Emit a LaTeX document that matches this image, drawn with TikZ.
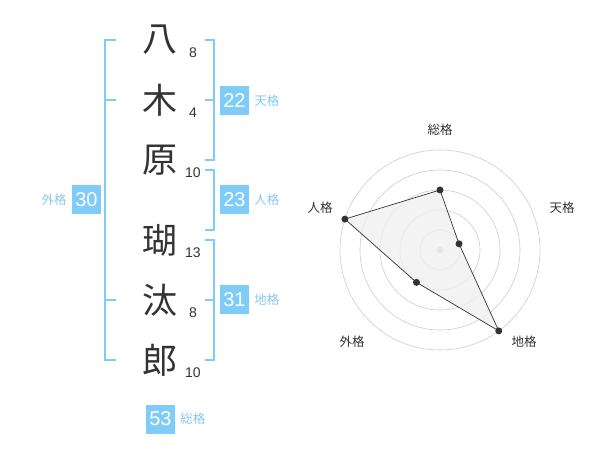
\documentclass[tikz,border=0pt]{standalone}
\usepackage{fontspec}
\setmainfont{Liberation Sans}
\newfontfamily\jp{Noto Sans CJK JP}
\usetikzlibrary{positioning}

\definecolor{kakublue}{HTML}{80CCF8}
\definecolor{kakulabel}{HTML}{88C8EE}
\definecolor{ink}{HTML}{333333}

\begin{document}
\begin{tikzpicture}[x=1pt, y=-1pt,
    kanji/.style={text=ink, font=\jp\fontsize{35}{35}\selectfont, inner sep=0pt},
    strokes/.style={text=ink, font=\fontsize{14}{14}\selectfont, inner sep=0pt},
    kakubox/.style={fill=kakublue, text=white, minimum size=29pt, inner sep=0pt, font=\fontsize{20}{20}\selectfont},
    kakuname/.style={text=kakulabel, font=\jp\fontsize{12.5}{12.5}\selectfont, inner sep=0pt},
    bracket/.style={draw=kakublue, line width=1.6pt},
    ring/.style={draw=black!20, line width=0.6pt},
    axisname/.style={text=ink, font=\jp\fontsize{12.5}{12.5}\selectfont, inner sep=0pt},
    dot/.style={circle, fill=ink, inner sep=0pt, minimum size=7pt}]
    \useasboundingbox (0,0) rectangle (600,470);

    % name and stroke counts
    \node (k1) [kanji] at (160,40) {八};
    \node (k2) [kanji] at (160,100) {木};
    \node (k3) [kanji] at (160,160) {原};
    \node (k4) [kanji] at (160,240) {瑚};
    \node (k5) [kanji] at (160,300) {汰};
    \node (k6) [kanji] at (160,360) {郎};
    \node (s1) [strokes] at (193,53) {8};
    \node (s2) [strokes] at (193,113) {4};
    \node (s3) [strokes] at (193,173) {10};
    \node (s4) [strokes] at (193,253) {13};
    \node (s5) [strokes] at (193,313) {8};
    \node (s6) [strokes] at (193,373) {10};

    % brackets
    \draw [bracket] (116,40) -- (105,40) -- (105,360) -- (116,360);
    \draw [bracket] (105,100) -- (116,100);
    \draw [bracket] (105,300) -- (116,300);
    \draw [bracket] (205,40) -- (214,40) -- (214,160) -- (205,160);
    \draw [bracket] (214,100) -- (205,100);
    \draw [bracket] (205,170) -- (214,170) -- (214,230) -- (205,230);
    \draw [bracket] (205,240) -- (214,240) -- (214,360) -- (205,360);
    \draw [bracket] (214,300) -- (205,300);

    % totals
    \node (ten) [kakubox] at (234.5,100.5) {22};
    \node (jin) [kakubox] at (234.5,200) {23};
    \node (chi) [kakubox] at (234.5,300) {31};
    \node (gai) [kakubox] at (86.5,200) {30};
    \node (sou) [kakubox] at (160.5,419) {53};
    \node (tenname) [kakuname, right=5pt of ten] {天格};
    \node (jinname) [kakuname, right=5pt of jin] {人格};
    \node (chiname) [kakuname, right=5pt of chi] {地格};
    \node (gainame) [kakuname, left=5pt of gai] {外格};
    \node (souname) [kakuname, right=5pt of sou] {総格};

    % radar chart
    \begin{scope}[shift={(440,250)}, y=1pt]
        \foreach \r in {20,40,60,80,100}
            \draw [ring] (0,0) circle (\r);
        \fill [black!25] (0,0) circle (3.3);
        \coordinate (psou) at (90:60);
        \coordinate (pten) at (18:20);
        \coordinate (pchi) at (-54:100);
        \coordinate (pgai) at (-126:40);
        \coordinate (pjin) at (162:100);
        \draw [fill=black!6, fill opacity=0.8, draw=ink, line width=0.7pt]
            (psou) -- (pten) -- (pchi) -- (pgai) -- (pjin) -- cycle;
        \foreach \p in {psou,pten,pchi,pgai,pjin}
            \node [dot] at (\p) {};
        \node (asou) [axisname] at (0,120) {総格};
        \node (aten) [axisname] at (122,42) {天格};
        \node (achi) [axisname] at (84,-92) {地格};
        \node (agai) [axisname] at (-88,-92) {外格};
        \node (ajin) [axisname] at (-120,42) {人格};
    \end{scope}
\end{tikzpicture}
\end{document}
